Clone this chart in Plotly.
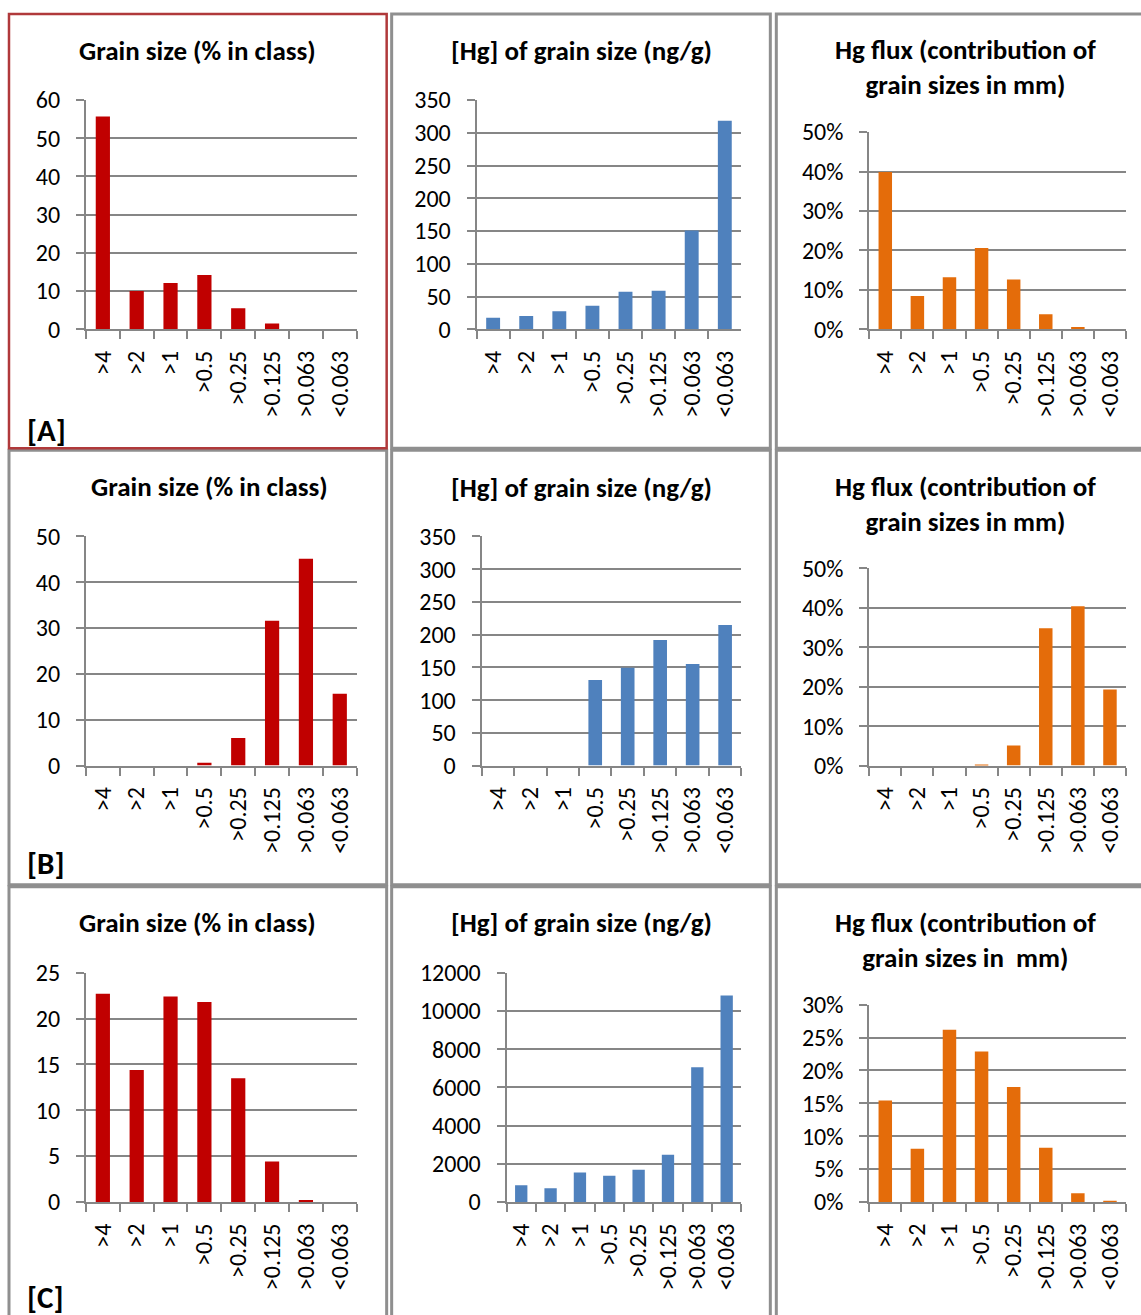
import plotly.graph_objects as go

W, H = 1141, 1315

categories = [">4", ">2", ">1", ">0.5", ">0.25", ">0.125", ">0.063", "<0.063"]

a_grain = [55.7, 10.0, 12.1, 14.2, 5.5, 1.5, 0, 0]
a_hg = [17.4, 20.4, 27.6, 35.8, 57.2, 58.8, 150.7, 318.3]
a_flux = [0.399, 0.084, 0.132, 0.206, 0.126, 0.038, 0.006, 0.0]

b_grain = [0, 0, 0, 0.6, 6.0, 31.6, 45.1, 15.7]
b_hg = [None, None, None, 130.6, 149.5, 191.8, 155.1, 214.8]
b_flux = [0, 0, 0, 0.003, 0.051, 0.348, 0.404, 0.193]

c_grain = [22.7, 14.4, 22.4, 21.8, 13.5, 4.4, 0.2, 0]
c_hg = [875, 717, 1539, 1364, 1679, 2466, 7050, 10810]
c_flux = [0.1545, 0.0808, 0.262, 0.229, 0.175, 0.0824, 0.0132, 0.0015]

title_grain = "Grain size (% in class)"
title_hg = "[Hg] of grain size (ng/g)"
title_flux = "Hg flux (contribution of<br>grain sizes in mm)"
title_flux_c = "Hg flux (contribution of<br>grain sizes in\u00a0 mm)"
panel_labels = ["[A]", "[B]", "[C]"]

RED = "#C00000"
BLUE = "#4F81BD"
ORANGE = "#E46C0A"
GRID = "#868686"
FONT = "Carlito, Lato, sans-serif"

# the paper area is observed to be displayed between y=15 and y=1300 of the page
PAPER_TOP = 15.0
PAPER_H = 1285.0

def px(x):
    return x / W

def py(y):
    return 1 - (y - PAPER_TOP) / PAPER_H

panels = [
    (a_grain, RED, (85, 356, 100, 329), [0, 60], 10, "d"),
    (a_hg, BLUE, (476, 741, 100, 329), [0, 350], 50, "d"),
    (a_flux, ORANGE, (869, 1126, 132, 329), [0, 0.5], 0.1, ".0%"),
    (b_grain, RED, (85, 356, 536, 765), [0, 50], 10, "d"),
    (b_hg, BLUE, (481, 741, 536, 765), [0, 350], 50, "d"),
    (b_flux, ORANGE, (869, 1126, 568, 765), [0, 0.5], 0.1, ".0%"),
    (c_grain, RED, (85, 356, 972, 1201), [0, 25], 5, "d"),
    (c_hg, BLUE, (506, 741, 972, 1201), [0, 12000], 2000, "d"),
    (c_flux, ORANGE, (869, 1126, 1004, 1201), [0, 0.3], 0.05, ".0%"),
]

fig = go.Figure()
layout = {}
for i, (vals, color, box, yr, dt, fmt) in enumerate(panels):
    n = "" if i == 0 else str(i + 1)
    x0, x1, yt, yb = box
    fig.add_trace(go.Bar(
        x=categories, y=vals, marker=dict(color=color, line=dict(width=0)),
        width=0.42, xaxis="x" + n, yaxis="y" + n, showlegend=False,
    ))
    layout["xaxis" + n] = dict(
        domain=[px(x0), px(x1)], anchor="y" + n, type="category",
        categoryorder="array", categoryarray=categories,
        showline=True, linecolor=GRID, linewidth=2,
        ticks="outside", tickson="boundaries", ticklen=8, tickwidth=2, tickcolor=GRID,
        tickangle=-90, tickfont=dict(family=FONT, size=24, color="black"),
        ticklabelstandoff=10, showgrid=False, zeroline=False, fixedrange=True,
    )
    layout["yaxis" + n] = dict(
        domain=[py(yb), py(yt)], anchor="x" + n, range=yr, dtick=dt, tick0=0,
        tickformat=fmt,
        showline=True, linecolor=GRID, linewidth=2,
        showgrid=True, gridcolor=GRID, gridwidth=1.6,
        ticks="outside", ticklen=8, tickwidth=1.6, tickcolor=GRID,
        tickfont=dict(family=FONT, size=24, color="black"),
        ticklabelstandoff=11, zeroline=False, fixedrange=True,
    )

annotations = []
def title(text, xc, yc):
    annotations.append(dict(
        text="<b>" + text + "</b>", x=px(xc), y=py(yc), xref="paper", yref="paper",
        xanchor="center", yanchor="middle", showarrow=False,
        font=dict(family=FONT, size=27, color="black"),
    ))

title(title_grain, 197, 50)
title(title_hg, 581, 50)
title(title_flux, 965, 67)
title(title_grain, 209, 486)
title(title_hg, 581, 487)
title(title_flux, 965, 504)
title(title_grain, 197, 922)
title(title_hg, 581, 922)
title(title_flux_c, 965, 939)

for lbl, yc in zip(panel_labels, [430, 862, 1296]):
    annotations.append(dict(
        text="<b>" + lbl + "</b>", x=px(24), y=py(yc), xref="paper", yref="paper",
        xanchor="left", yanchor="middle", showarrow=False,
        font=dict(family=FONT, size=31, color="black"),
    ))

shapes = []
cols = [(8, 386), (391, 770), (776, 1160)]
rows = [(14, 448), (450, 884), (886, 1340)]
for r, (yt, yb) in enumerate(rows):
    for c, (xl, xr) in enumerate(cols):
        if r == 0 and c == 0:
            continue
        shapes.append(dict(type="rect", xref="paper", yref="paper",
                           x0=px(xl), x1=px(xr), y0=py(yb), y1=py(yt),
                           line=dict(color="#8f8f8f", width=3), layer="below"))
shapes.append(dict(type="rect", xref="paper", yref="paper",
                   x0=px(cols[0][0]), x1=px(cols[0][1]), y0=py(rows[0][1]), y1=py(rows[0][0]),
                   line=dict(color="#B0393B", width=2.5), layer="above"))

fig.update_layout(
    width=W, height=H, margin=dict(l=0, r=0, t=0, b=0),
    paper_bgcolor="white", plot_bgcolor="white",
    annotations=annotations, shapes=shapes, bargap=0.58,
    **layout,
)
fig.write_html(
    "out.html",
    config={"displayModeBar": False},
    post_script="document.body.style.margin='0';document.body.style.overflow='hidden';",
)
